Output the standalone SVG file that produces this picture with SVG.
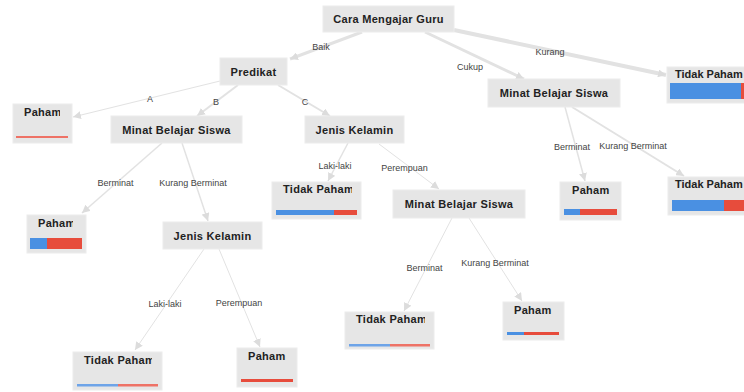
<svg xmlns="http://www.w3.org/2000/svg" width="744" height="392" viewBox="0 0 744 392">
<style>
.box{fill:#e6e6e6;stroke:#ececec;stroke-width:1}
.nt{font-family:"Liberation Sans",Arial,sans-serif;font-size:11px;font-weight:bold;fill:#222;letter-spacing:0.3px}
.c{text-anchor:middle}
.el{font-family:"Liberation Sans",Arial,sans-serif;font-size:9px;fill:#444;text-anchor:middle}
.e{stroke:#e2e2e2;fill:none;marker-end:url(#ah)}
.b{fill:#4a90e2}
.r{fill:#e74c3c}
</style>
<defs>
<marker id="ah" viewBox="0 0 8 8" refX="8" refY="4" markerWidth="8" markerHeight="8" markerUnits="userSpaceOnUse" orient="auto">
<path d="M0,0 L8,4 L0,8 z" fill="#dcdcdc"/>
</marker>
<clipPath id="k1"><rect x="13" y="100" width="47" height="30"/></clipPath>
<clipPath id="k2"><rect x="27" y="210" width="46" height="30"/></clipPath>
<clipPath id="k3"><rect x="272" y="178" width="80" height="30"/></clipPath>
<clipPath id="k7"><rect x="73" y="348" width="79" height="30"/></clipPath>
<clipPath id="k8"><rect x="237" y="344" width="50" height="30"/></clipPath>
<clipPath id="k9"><rect x="345" y="308" width="80" height="30"/></clipPath>
<clipPath id="k10"><rect x="503" y="298" width="50" height="30"/></clipPath>
<clipPath id="k5"><rect x="560" y="178" width="52" height="30"/></clipPath>
</defs>

<g id="connectors">
<line class="e" x1="362" y1="32" x2="290" y2="59" stroke-width="3"/>
<line class="e" x1="425" y1="32" x2="524" y2="79" stroke-width="3"/>
<line class="e" x1="454" y1="30" x2="666" y2="75" stroke-width="4"/>
<line class="e" x1="220" y1="81" x2="73" y2="117" stroke-width="1"/>
<line class="e" x1="238" y1="85" x2="197" y2="116" stroke-width="2"/>
<line class="e" x1="278" y1="85" x2="330" y2="116" stroke-width="2"/>
<line class="e" x1="162" y1="143" x2="82" y2="213" stroke-width="1.5"/>
<line class="e" x1="182" y1="143" x2="208" y2="221" stroke-width="1.5"/>
<line class="e" x1="348" y1="143" x2="328" y2="181" stroke-width="1.5"/>
<line class="e" x1="379" y1="144" x2="439" y2="189" stroke-width="1"/>
<line class="e" x1="565" y1="107" x2="585" y2="181" stroke-width="1.5"/>
<line class="e" x1="572" y1="107" x2="684" y2="176" stroke-width="2"/>
<line class="e" x1="204" y1="249" x2="135" y2="350" stroke-width="1"/>
<line class="e" x1="219" y1="249" x2="260" y2="347" stroke-width="1"/>
<line class="e" x1="452" y1="218" x2="404" y2="311" stroke-width="1"/>
<line class="e" x1="469" y1="218" x2="522" y2="301" stroke-width="1"/>
<text class="el" x="321" y="50">Baik</text>
<text class="el" x="470" y="70">Cukup</text>
<text class="el" x="550" y="55">Kurang</text>
<text class="el" x="150" y="102">A</text>
<text class="el" x="216" y="105">B</text>
<text class="el" x="305" y="105">C</text>
<text class="el" x="115.5" y="186">Berminat</text>
<text class="el" x="193" y="186">Kurang Berminat</text>
<text class="el" x="335" y="169">Laki-laki</text>
<text class="el" x="404.5" y="171">Perempuan</text>
<text class="el" x="572" y="150">Berminat</text>
<text class="el" x="633" y="149">Kurang Berminat</text>
<text class="el" x="165" y="307">Laki-laki</text>
<text class="el" x="239" y="306">Perempuan</text>
<text class="el" x="424.5" y="271">Berminat</text>
<text class="el" x="495" y="266">Kurang Berminat</text>
</g>

<g id="root">
<rect class="box" x="323" y="6" width="131" height="26"/>
<text class="nt c" x="388.5" y="23">Cara Mengajar Guru</text>
</g>
<g id="predikat">
<rect class="box" x="220" y="58" width="67" height="27"/>
<text class="nt c" x="253.5" y="75.5">Predikat</text>
</g>
<g id="minat-b">
<rect class="box" x="111" y="116" width="131" height="27"/>
<text class="nt c" x="176.5" y="133.5">Minat Belajar Siswa</text>
</g>
<g id="jenis-c">
<rect class="box" x="305" y="116" width="99" height="27"/>
<text class="nt c" x="354.5" y="133.5">Jenis Kelamin</text>
</g>
<g id="minat-cukup">
<rect class="box" x="488" y="79" width="132" height="28"/>
<text class="nt c" x="554" y="97">Minat Belajar Siswa</text>
</g>
<g id="jenis-b">
<rect class="box" x="163" y="222" width="99" height="27"/>
<text class="nt c" x="212.5" y="239.5">Jenis Kelamin</text>
</g>
<g id="minat-c">
<rect class="box" x="393" y="190" width="132" height="28"/>
<text class="nt c" x="459" y="208">Minat Belajar Siswa</text>
</g>

<g id="leaf-a">
<rect class="box" x="13" y="104" width="59" height="39"/>
<text class="nt" x="24" y="116" clip-path="url(#k1)">Paham</text>
<rect x="16" y="136" width="52" height="2" fill="#ee7266"/>
</g>
<g id="leaf-b-berminat">
<rect class="box" x="27" y="215" width="59" height="38"/>
<text class="nt" x="38" y="227" clip-path="url(#k2)">Paham</text>
<rect class="b" x="30" y="238" width="17" height="11"/>
<rect class="r" x="47" y="238" width="35" height="11"/>
</g>
<g id="leaf-c-laki">
<rect class="box" x="272" y="182" width="89" height="37"/>
<text class="nt" x="283" y="193" clip-path="url(#k3)">Tidak Paham</text>
<rect class="b" x="276" y="210" width="58" height="5"/>
<rect class="r" x="334" y="210" width="23" height="5"/>
</g>
<g id="leaf-kurang">
<rect class="box" x="667" y="67" width="82" height="36"/>
<text class="nt" x="675" y="78" style="letter-spacing:0">Tidak Paham</text>
<rect class="b" x="670" y="83" width="71" height="16"/>
<rect class="r" x="741" y="83" width="8" height="16"/>
</g>
<g id="leaf-cukup-berminat">
<rect class="box" x="560" y="182" width="61" height="38"/>
<text class="nt" x="572" y="194" clip-path="url(#k5)">Paham</text>
<rect class="b" x="564" y="209" width="16" height="6"/>
<rect class="r" x="580" y="209" width="37" height="6"/>
</g>
<g id="leaf-cukup-kurang">
<rect class="box" x="668" y="177" width="82" height="38"/>
<text class="nt" x="675" y="188" style="letter-spacing:0">Tidak Paham</text>
<rect class="b" x="672" y="200" width="52" height="11"/>
<rect class="r" x="724" y="200" width="26" height="11"/>
</g>
<g id="leaf-b-laki">
<rect class="box" x="73" y="352" width="89" height="38"/>
<text class="nt" x="84" y="364" clip-path="url(#k7)">Tidak Paham</text>
<rect x="77" y="384" width="41" height="2.5" fill="#6ea4e8"/>
<rect x="118" y="384" width="40" height="2.5" fill="#ee7266"/>
</g>
<g id="leaf-b-perempuan">
<rect class="box" x="237" y="348" width="60" height="39"/>
<text class="nt" x="248" y="360" clip-path="url(#k8)">Paham</text>
<rect class="r" x="241" y="379" width="52" height="3"/>
</g>
<g id="leaf-c-berminat">
<rect class="box" x="345" y="312" width="89" height="37"/>
<text class="nt" x="356" y="323" clip-path="url(#k9)">Tidak Paham</text>
<rect x="349" y="344" width="41" height="2.5" fill="#6ea4e8"/>
<rect x="390" y="344" width="40" height="2.5" fill="#ee7266"/>
</g>
<g id="leaf-c-kurang">
<rect class="box" x="503" y="302" width="61" height="38"/>
<text class="nt" x="514" y="314" clip-path="url(#k10)">Paham</text>
<rect class="b" x="507" y="332" width="17" height="3"/>
<rect class="r" x="524" y="332" width="35" height="3"/>
</g>
</svg>
